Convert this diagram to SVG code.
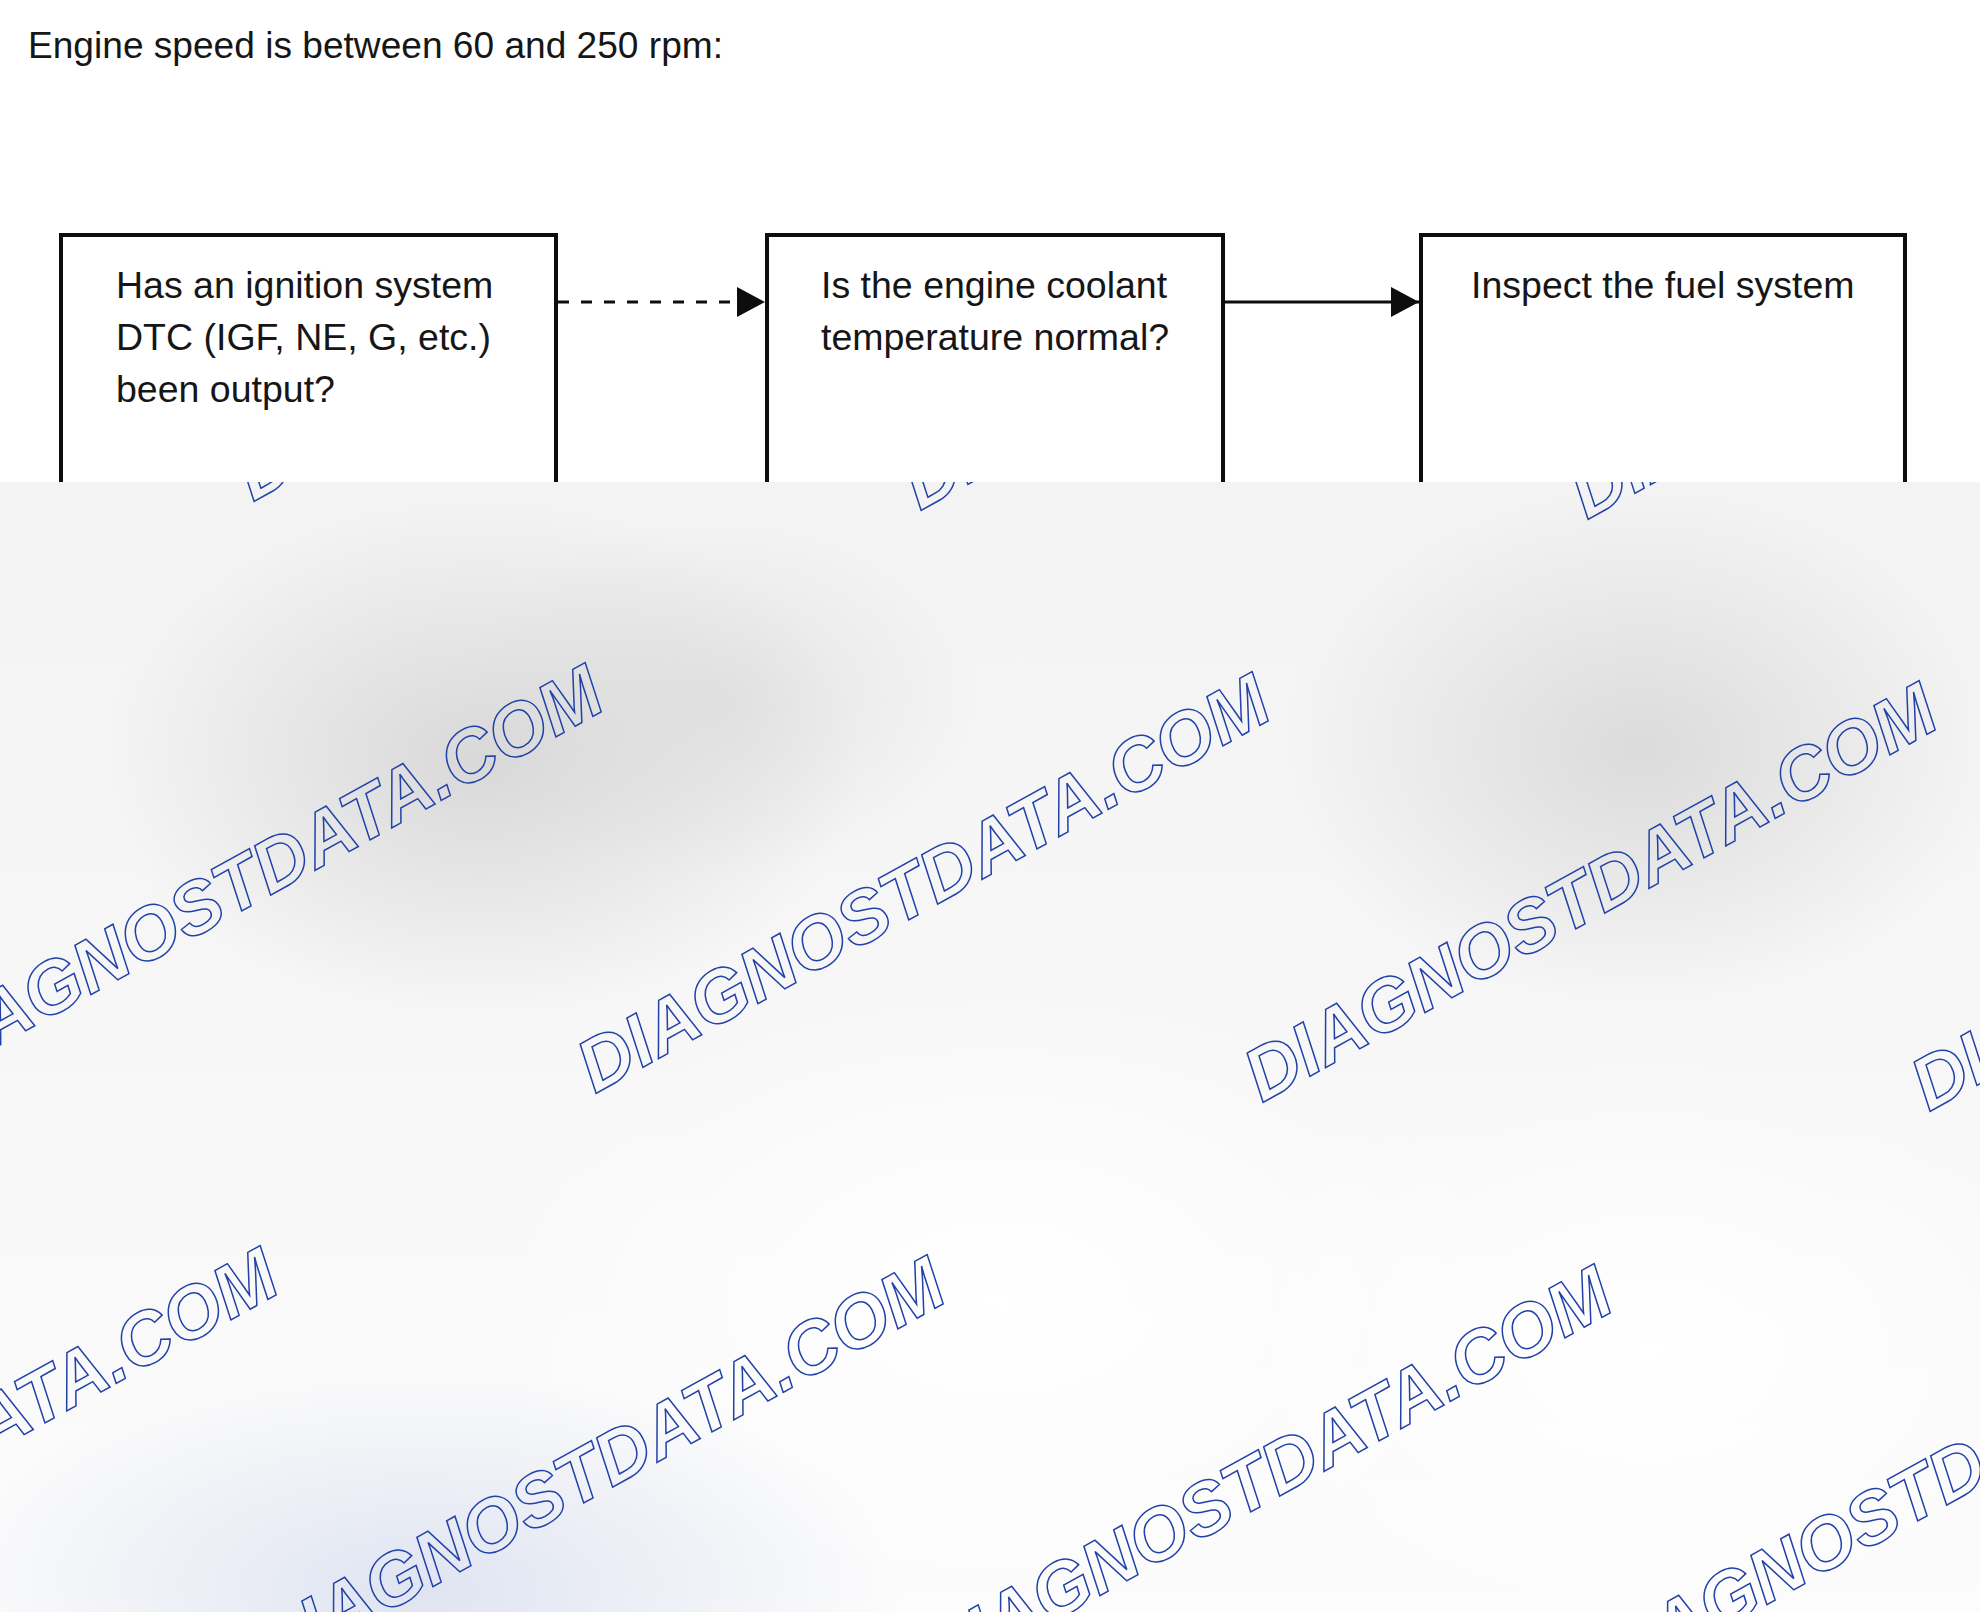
<svg xmlns="http://www.w3.org/2000/svg" width="1980" height="1612" viewBox="0 0 1980 1612">
<style>
.t{font-family:"Liberation Sans",Arial,sans-serif;font-size:37.5px;fill:#161616}
.box{fill:#ffffff;stroke:#0d0d0d;stroke-width:4}
.conn{stroke:#0d0d0d;stroke-width:3;fill:none}
.dash{stroke-dasharray:11 12}
.wm{font-family:"Liberation Sans",Arial,sans-serif;font-size:74px;font-weight:bold;font-style:italic;fill:none;stroke:#2242a8;stroke-width:1.5}
</style>
<defs>
<marker id="ah" markerUnits="userSpaceOnUse" markerWidth="28" markerHeight="30" refX="28" refY="15" orient="auto">
<path d="M0,0 L28,15 L0,30 Z" fill="#0d0d0d"/>
</marker>
<clipPath id="top"><rect x="0" y="0" width="1980" height="482"/></clipPath>
<clipPath id="bot"><rect x="0" y="482" width="1980" height="1130"/></clipPath>
<linearGradient id="bg" x1="0" y1="0" x2="0" y2="1">
<stop offset="0" stop-color="#f3f3f3"/>
<stop offset="0.6" stop-color="#f8f8f8"/>
<stop offset="1" stop-color="#fcfcfc"/>
</linearGradient>
<radialGradient id="dark">
<stop offset="0" stop-color="#d8d8d8" stop-opacity="1"/>
<stop offset="1" stop-color="#d8d8d8" stop-opacity="0"/>
</radialGradient>
<radialGradient id="white">
<stop offset="0" stop-color="#ffffff" stop-opacity="1"/>
<stop offset="1" stop-color="#ffffff" stop-opacity="0"/>
</radialGradient>
<radialGradient id="blue">
<stop offset="0" stop-color="#dfe4f1" stop-opacity="1"/>
<stop offset="1" stop-color="#dfe4f1" stop-opacity="0"/>
</radialGradient>
</defs>
<rect x="0" y="0" width="1980" height="482" fill="#ffffff"/>
<g id="title"><text class="t" x="28" y="58" textLength="695" lengthAdjust="spacingAndGlyphs">Engine speed is between 60 and 250 rpm:</text></g>
<g clip-path="url(#top)">
<g id="node1"><rect class="box" x="61" y="235" width="495" height="400"/>
<text class="t" x="116" y="298">Has an ignition system</text>
<text class="t" x="116" y="350">DTC (IGF, NE, G, etc.)</text>
<text class="t" x="116" y="402">been output?</text></g>
<g id="node2"><rect class="box" x="767" y="235" width="456" height="400"/>
<text class="t" x="821" y="298">Is the engine coolant</text>
<text class="t" x="821" y="350">temperature normal?</text></g>
<g id="node3"><rect class="box" x="1421" y="235" width="484" height="400"/>
<text class="t" x="1471" y="298">Inspect the fuel system</text></g>
<g id="connectors">
<line class="conn dash" x1="558" y1="302" x2="765" y2="302" marker-end="url(#ah)"/>
<line class="conn" x1="1225" y1="302" x2="1419" y2="302" marker-end="url(#ah)"/>
</g>
</g>
<g id="watermark-panel">
<rect x="0" y="482" width="1980" height="1130" fill="url(#bg)"/>
<g clip-path="url(#bot)">
<ellipse cx="480" cy="760" rx="380" ry="260" fill="url(#dark)"/>
<ellipse cx="720" cy="700" rx="260" ry="180" fill="url(#dark)" opacity="0.6"/>
<ellipse cx="1640" cy="750" rx="360" ry="260" fill="url(#dark)" opacity="0.9"/>
<ellipse cx="1000" cy="1300" rx="520" ry="320" fill="url(#white)"/>
<ellipse cx="1650" cy="1350" rx="450" ry="300" fill="url(#white)"/>
<ellipse cx="420" cy="1590" rx="480" ry="220" fill="url(#blue)"/>
<g id="wm">
<text class="wm" transform="translate(253,502) rotate(-29)">DIAGNOSTDATA.COM</text>
<text class="wm" transform="translate(920,511) rotate(-29)">DIAGNOSTDATA.COM</text>
<text class="wm" transform="translate(1587,520) rotate(-29)">DIAGNOSTDATA.COM</text>
<text class="wm" transform="translate(-72,1085) rotate(-29)">DIAGNOSTDATA.COM</text>
<text class="wm" transform="translate(595,1094) rotate(-29)">DIAGNOSTDATA.COM</text>
<text class="wm" transform="translate(1262,1103) rotate(-29)">DIAGNOSTDATA.COM</text>
<text class="wm" transform="translate(1929,1112) rotate(-29)">DIAGNOSTDATA.COM</text>
<text class="wm" transform="translate(-397,1668) rotate(-29)">DIAGNOSTDATA.COM</text>
<text class="wm" transform="translate(270,1677) rotate(-29)">DIAGNOSTDATA.COM</text>
<text class="wm" transform="translate(937,1686) rotate(-29)">DIAGNOSTDATA.COM</text>
<text class="wm" transform="translate(1604,1695) rotate(-29)">DIAGNOSTDATA.COM</text>
</g>
</g>
</g>
</svg>
